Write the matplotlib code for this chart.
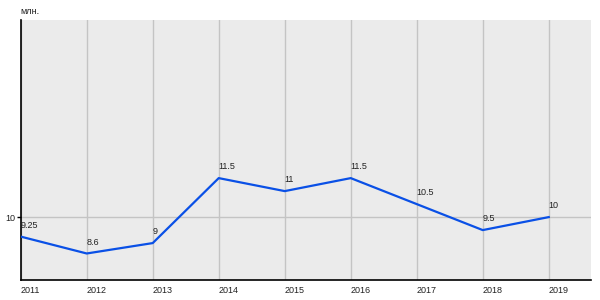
import matplotlib
matplotlib.use('Agg')
import matplotlib.pyplot as plt

years = [2011, 2012, 2013, 2014, 2015, 2016, 2017, 2018, 2019]
values = [9.25, 8.6, 9, 11.5, 11, 11.5, 10.5, 9.5, 10]
labels = ['9.25', '8.6', '9', '11.5', '11', '11.5', '10.5', '9.5', '10']

plt.rcParams['font.family'] = ['Liberation Sans', 'DejaVu Sans']

fig = plt.figure(figsize=(6, 3), dpi=100)
ax = fig.add_axes([0.0345, 0.0667, 0.9505, 0.8663])
ax.set_facecolor('#ebebeb')

ax.plot(years, values, color='#0a50e6', lw=1.6, zorder=3)
for x, y, t in zip(years, values, labels):
    ax.annotate(t, (x, y), xytext=(0, 5), textcoords='offset points',
                ha='left', va='bottom', fontsize=6.5, color='#222222')

ax.set_xlim(2011, 2019.64)
ax.set_ylim(7.58, 17.58)
ax.set_xticks(years)
ax.set_xticklabels([str(y) for y in years], ha='left', fontsize=6.5, color='#222222')
ax.set_yticks([10])
ax.set_yticklabels(['10'], fontsize=6.5, color='#222222')
ax.tick_params(axis='x', length=0, pad=4)
ax.tick_params(axis='y', length=3, pad=1, width=1)
ax.grid(True, color='#c4c4c4', lw=1)
ax.set_axisbelow(True)

for s in ['top', 'right']:
    ax.spines[s].set_visible(False)
for s in ['left', 'bottom']:
    ax.spines[s].set_color('black')
    ax.spines[s].set_linewidth(1.2)

ax.text(0, 1.015, 'млн.', transform=ax.transAxes, ha='left', va='bottom',
        fontsize=6.5, color='#222222')

fig.savefig('out.png', dpi=100, facecolor='white')
